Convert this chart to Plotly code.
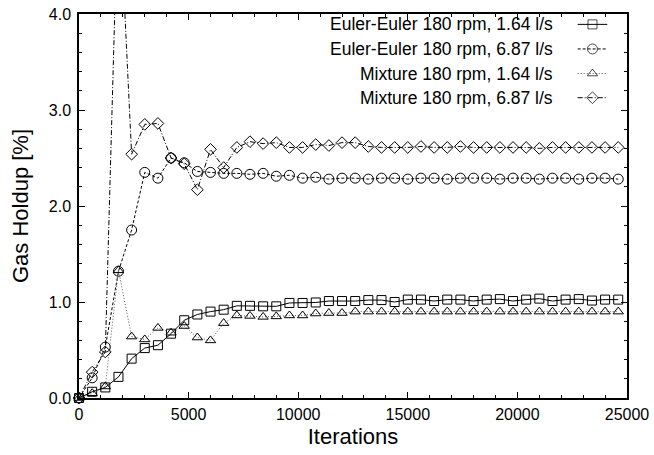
import plotly.graph_objects as go

# ---------------- data ----------------
iterations = [0, 600, 1200, 1800, 2400, 3000, 3600, 4200, 4800, 5400, 6000,
              6600, 7200, 7800, 8400, 9000, 9600, 10200, 10800, 11400, 12000,
              12600, 13200, 13800, 14400, 15000, 15600, 16200, 16800, 17400,
              18000, 18600, 19200, 19800, 20400, 21000, 21600, 22200, 22800,
              23400, 24000, 24600]

ee_164 = [0.0, 0.065, 0.11, 0.22, 0.41, 0.52, 0.55, 0.67, 0.81, 0.87, 0.90,
          0.92, 0.96, 0.96, 0.955, 0.955, 0.99, 0.99, 0.995, 1.01, 1.01,
          1.01, 1.02, 1.02, 1.00, 1.025, 1.025, 1.01, 1.025, 1.025,
          1.01, 1.025, 1.03, 1.01, 1.025, 1.035, 1.01, 1.025, 1.03,
          1.015, 1.025, 1.025]

ee_687 = [0.0, 0.21, 0.53, 1.32, 1.75, 2.35, 2.29, 2.50, 2.45, 2.36, 2.35,
          2.34, 2.34, 2.33, 2.34, 2.31, 2.32, 2.29, 2.30, 2.28, 2.29,
          2.29, 2.28, 2.29, 2.29, 2.28, 2.29, 2.29, 2.28, 2.29,
          2.29, 2.29, 2.28, 2.29, 2.29, 2.28, 2.29, 2.29, 2.28,
          2.29, 2.29, 2.28]

mix_164 = [0.0, 0.05, 0.12, 1.33, 0.64, 0.61, 0.73, 0.68, 0.75, 0.63, 0.60,
           0.78, 0.86, 0.855, 0.845, 0.85, 0.86, 0.86, 0.88, 0.885, 0.885,
           0.90, 0.90, 0.90, 0.90, 0.90, 0.90, 0.90, 0.90, 0.90,
           0.90, 0.90, 0.90, 0.90, 0.90, 0.90, 0.90, 0.90, 0.90,
           0.90, 0.90, 0.90]

mix_687 = [0.0, 0.27, 0.48, 5.4, 2.54, 2.85, 2.86, 2.50, 2.44, 2.17, 2.59,
           2.40, 2.61, 2.67, 2.65, 2.66, 2.61, 2.61, 2.64, 2.63, 2.66,
           2.66, 2.62, 2.61, 2.61, 2.61, 2.62, 2.61, 2.61, 2.62,
           2.61, 2.61, 2.61, 2.61, 2.61, 2.60, 2.61, 2.61, 2.61,
           2.61, 2.61, 2.61]

series_names = ["Euler-Euler 180 rpm, 1.64 l/s", "Euler-Euler 180 rpm, 6.87 l/s",
                "Mixture 180 rpm, 1.64 l/s", "Mixture 180 rpm, 6.87 l/s"]

x_ticks = [0, 5000, 10000, 15000, 20000, 25000]
y_ticks = [0.0, 1.0, 2.0, 3.0, 4.0]

# ---------------- styles ----------------
FONT = "Liberation Sans, Arial, Helvetica, sans-serif"
styles = [
    dict(line=dict(color="black", width=1, dash="solid"),
         marker=dict(symbol="square-open", size=9, color="black", line=dict(width=1))),
    dict(line=dict(color="black", width=1, dash="3px,2px"),
         marker=dict(symbol="circle-open", size=10, color="black", line=dict(width=1))),
    dict(line=dict(color="#555555", width=1, dash="1px,2px"),
         marker=dict(symbol="triangle-up-open", size=9, color="black", line=dict(width=1))),
    dict(line=dict(color="black", width=1, dash="5px,2px,1px,2px"),
         marker=dict(symbol="diamond-open", size=9, color="black", line=dict(width=1))),
]

fig = go.Figure()
for name, ys, st in zip(series_names, [ee_164, ee_687, mix_164, mix_687], styles):
    fig.add_trace(go.Scatter(x=iterations, y=ys, mode="lines+markers", name=name,
                             line=st["line"], marker=st["marker"],
                             cliponaxis=False, showlegend=False))

# ---------------- manual legend (text right, sample on right) ----------------
leg_y = [0.973, 0.909, 0.845, 0.782]
for name, yy, st in zip(series_names, leg_y, styles):
    fig.add_annotation(x=0.868, y=yy, xref="paper", yref="paper", text=name,
                       showarrow=False, xanchor="right", yanchor="middle",
                       font=dict(family=FONT, size=17.5, color="black"))
    m = dict(st["marker"])
    m["size"] = [0, m["size"], 0]
    fig.add_trace(go.Scatter(x=[0.910, 0.937, 0.964], y=[yy, yy, yy],
                             xaxis="x2", yaxis="y2", mode="lines+markers",
                             line=st["line"], marker=m, showlegend=False,
                             hoverinfo="skip", cliponaxis=False))

axis_common = dict(showline=True, linecolor="black", linewidth=1.5, mirror="allticks",
                   ticks="inside", ticklen=6, tickcolor="black", tickwidth=1,
                   showgrid=False, zeroline=False, automargin=False,
                   tickfont=dict(family=FONT, size=16, color="black"))

fig.update_layout(
    width=654, height=455,
    margin=dict(l=79, r=27, t=14, b=57),
    paper_bgcolor="white", plot_bgcolor="white",
    xaxis=dict(range=[0, 25000], tickvals=x_ticks,
               ticktext=[str(v) for v in x_ticks], ticklabelstandoff=1,
               minor=dict(ticks="inside", dtick=1000, ticklen=3, tickcolor="black"),
               title=dict(text="Iterations", font=dict(family=FONT, size=22, color="black"),
                          standoff=7),
               **axis_common),
    yaxis=dict(range=[0, 4.0], tickvals=y_ticks,
               ticktext=["%.1f" % v for v in y_ticks], ticklabelstandoff=3,
               minor=dict(ticks="inside", dtick=0.2, ticklen=3, tickcolor="black"),
               title=dict(text="Gas Holdup [%]", font=dict(family=FONT, size=22, color="black"),
                          standoff=14),
               **axis_common),
    xaxis2=dict(range=[0, 1], overlaying="x", visible=False, domain=[0, 1]),
    yaxis2=dict(range=[0, 1], overlaying="y", visible=False, domain=[0, 1]),
)

fig.write_html("out.html", config={"displayModeBar": False},
               post_script="document.body.style.margin='0';document.body.style.padding='0';")
